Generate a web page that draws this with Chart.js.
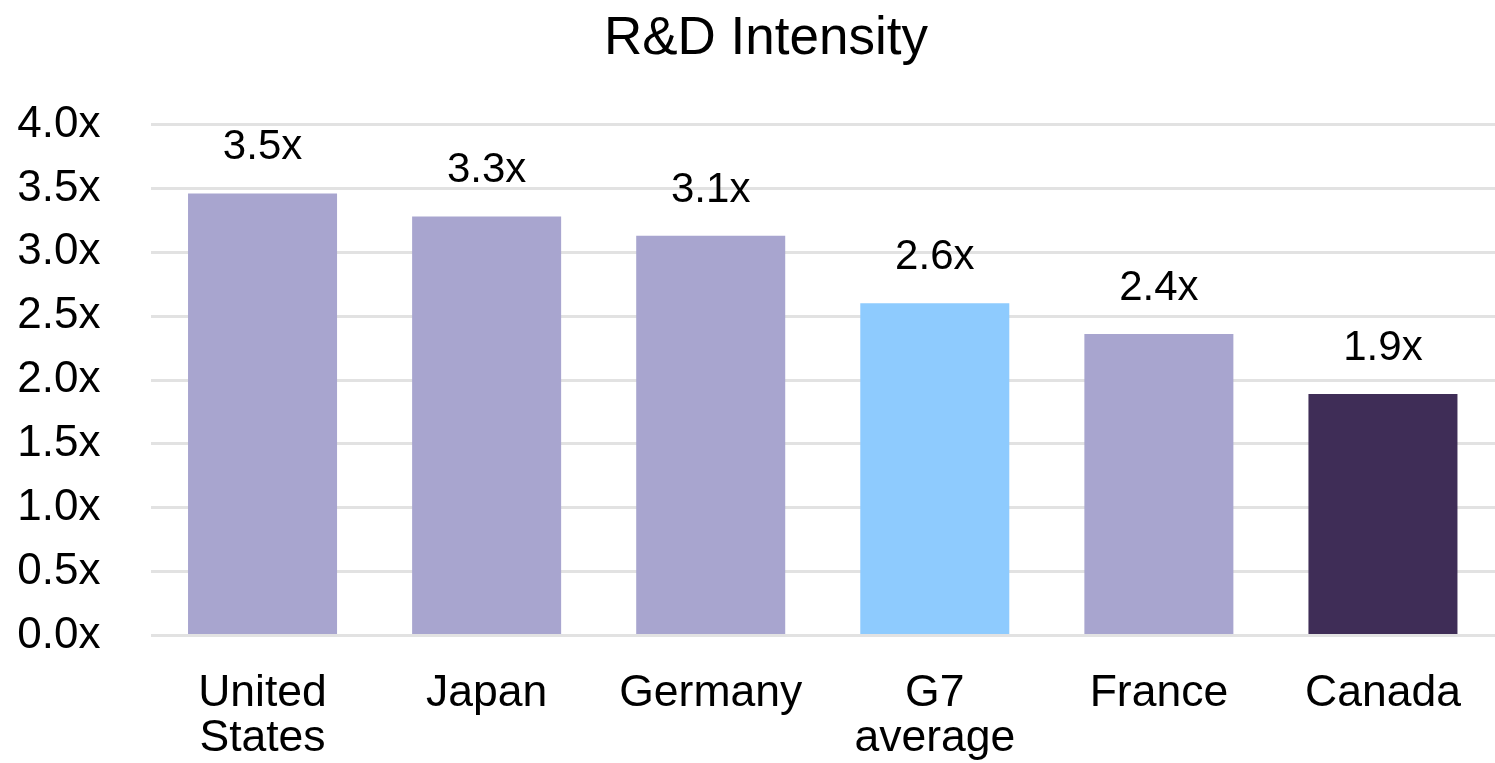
<!DOCTYPE html>
<html>
<head>
<meta charset="utf-8">
<script src="https://cdn.jsdelivr.net/npm/chart.js@4.4.1/dist/chart.umd.min.js"></script>
<style>
  html, body { margin: 0; padding: 0; background: #ffffff; }
  #wrap { width: 1495px; height: 763px; position: relative; }
</style>
</head>
<body>
<div id="wrap"><canvas id="chart"></canvas></div>
<script>
// R&D intensity by country (multiple of GDP share)
const chartTitle = "R&D Intensity";
const categories = [["United", "States"], "Japan", "Germany", ["G7", "average"], "France", "Canada"];
const intensity = [3.46, 3.28, 3.13, 2.60, 2.36, 1.89];
const barColors = ["#A8A5CF", "#A8A5CF", "#A8A5CF", "#8ECBFE", "#A8A5CF", "#3F2D57"];
const yTicks = [0, 0.5, 1, 1.5, 2, 2.5, 3, 3.5, 4];

const FONT = "'Liberation Sans', Arial, sans-serif";
const fmt = v => v.toFixed(1) + "x";

// Title, centred slightly right of the canvas middle
const titleText = {
  id: "titleText",
  afterDraw(chart) {
    const ctx = chart.ctx;
    ctx.save();
    ctx.font = "53px " + FONT;
    ctx.fillStyle = "#000000";
    ctx.textAlign = "center";
    ctx.textBaseline = "alphabetic";
    ctx.fillText(chartTitle, 766, 53.5);
    ctx.restore();
  }
};

// Value labels above each bar
const valueLabels = {
  id: "valueLabels",
  afterDatasetsDraw(chart) {
    const ctx = chart.ctx;
    const meta = chart.getDatasetMeta(0);
    ctx.save();
    ctx.font = "42px " + FONT;
    ctx.fillStyle = "#000000";
    ctx.textAlign = "center";
    ctx.textBaseline = "alphabetic";
    meta.data.forEach((bar, i) => {
      ctx.fillText(fmt(intensity[i]), bar.x, bar.y - 34);
    });
    ctx.restore();
  }
};

new Chart(document.getElementById("chart"), {
  type: "bar",
  data: {
    labels: categories,
    datasets: [{
      data: intensity,
      backgroundColor: barColors,
      borderWidth: 0,
      categoryPercentage: 1,
      barPercentage: 0.665
    }]
  },
  options: {
    responsive: true,
    maintainAspectRatio: false,
    animation: false,
    layout: { padding: { left: 0, right: 0, top: 124.5, bottom: 0 } },
    plugins: {
      legend: { display: false },
      tooltip: { enabled: false },
      title: { display: false }
    },
    scales: {
      x: {
        afterFit(scale) {
          scale.height = 127.5;
          scale.paddingLeft = 0;
          scale.paddingRight = 0;
        },
        grid: { display: false, drawTicks: false },
        border: { display: false },
        ticks: {
          color: "#000000",
          font: { family: FONT, size: 44.5, lineHeight: 1.01 },
          padding: 35.5,
          maxRotation: 0,
          autoSkip: false
        }
      },
      y: {
        min: 0,
        max: 4,
        afterBuildTicks(scale) {
          scale.ticks = yTicks.map(v => ({ value: v }));
        },
        afterFit(scale) { scale.width = 150.5; },
        grid: { color: "#E2E2E2", lineWidth: 3, drawTicks: false },
        border: { display: false },
        ticks: {
          color: "#000000",
          font: { family: FONT, size: 44 },
          padding: 50,
          callback: v => fmt(v)
        }
      }
    }
  },
  plugins: [valueLabels, titleText]
});
</script>
</body>
</html>
